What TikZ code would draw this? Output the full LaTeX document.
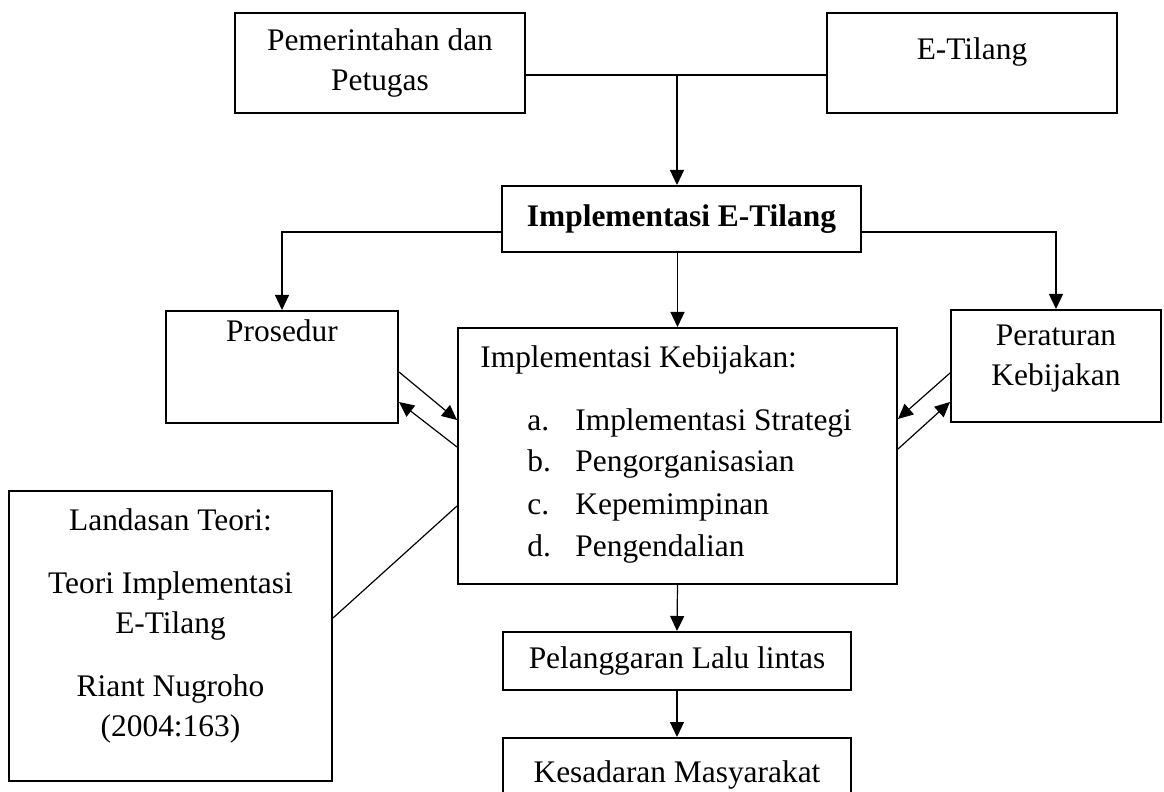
\documentclass[tikz,border=0pt]{standalone}
\usepackage{fontspec}
\setmainfont{Liberation Serif}
\usetikzlibrary{arrows.meta,positioning}

\begin{document}
\begin{tikzpicture}[x=0.5pt,y=-0.5pt,>={Triangle[length=7.5pt,width=7pt]},
  box/.style={draw,line width=1pt,inner sep=0pt},
  txt/.style={font=\fontsize{15.7}{20}\selectfont,inner sep=0pt,align=center}]
\useasboundingbox (0,0) rectangle (1164,792);
  \node[box,txt,minimum width=145pt,minimum height=50pt]   (pem)  at (380,63)    {Pemerintahan dan\\Petugas};
  \node[box,minimum width=145pt,minimum height=50pt]       (etl)  at (972,63)    {};
  \node[txt]                                               (etltxt) at (972,52)  {E-Tilang};
  \node[box,txt,minimum width=179.5pt,minimum height=33pt,
        font=\fontsize{15.7}{20}\selectfont\bfseries]      (iet)  at (681.5,219) {Implementasi E-Tilang};
  \node[box,minimum width=116pt,minimum height=56pt]       (pros) at (282,367)   {};
  \node[txt]                                               (prostxt) at (282,331) {Prosedur};
  \node[box,minimum width=105pt,minimum height=56pt]       (per)  at (1056,366)  {};
  \node[txt]                                               (pertxt) at (1056,359) {Peraturan\\Kebijakan};
  \node[box,minimum width=219.5pt,minimum height=128pt]    (ikb)  at (677.5,456) {};
  \node[txt,anchor=base west]                              (ikbhead) at (480,367) {Implementasi Kebijakan:};
  \foreach \lbl/\itm [count=\i] in {a./Implementasi Strategi,b./Pengorganisasian,
                                    c./Kepemimpinan,d./Pengendalian}
  {
    \node[txt,anchor=base west] (lbl\i) at (527,388+42*\i) {\lbl};
    \node[txt,anchor=base west] (itm\i) at (575,388+42*\i) {\itm};
  }
  \node[box,minimum width=161.5pt,minimum height=145pt]    (lan)  at (170.5,636) {};
  \node[txt]                                               (lantxt) at (170.5,626)
       {Landasan Teori:\\[11.5pt]Teori Implementasi\\E-Tilang\\[11.5pt]Riant Nugroho\\(2004:163)};
  \node[box,txt,minimum width=174pt,minimum height=29pt]   (pel)  at (677,661)   {Pelanggaran Lalu lintas};
  \node[box,minimum width=174pt,minimum height=29pt]       (kes)  at (677,767)   {};
  \node[txt]                                               (kestxt) at (677,775) {Kesadaran Masyarakat};
\coordinate (join) at (677,75);
\tikzset{flow/.style={->,line width=0.6pt}}
\draw[line width=0.6pt] ([yshift=-6pt]pem.east) -- ([yshift=-6pt]etl.west);
\draw[flow] ([yshift=-6.5pt]iet.west) -| (pros.north);
\draw[flow] ([yshift=-6.5pt]iet.east) -| (per.north);
\path (join)                  edge [flow] (join |- iet.north)
      (ikb.north |- iet.south) edge [flow] (ikb.north)
      (ikb.south)             edge [flow] (pel.north)
      (pel.south)             edge [flow] (kes.north)
      ([yshift=-2.5pt]pros.east) edge [flow] ([yshift=18pt]ikb.west)
      ([yshift=4.5pt]ikb.west)   edge [flow] ([yshift=-17.5pt]pros.east)
      ([yshift=-3.5pt]per.west)  edge [flow] ([yshift=18.5pt]ikb.east)
      ([yshift=3.5pt]ikb.east)   edge [flow] ([yshift=-18pt]per.west);
\path ([yshift=9pt]lan.east) edge [line width=0.6pt] ([yshift=-25pt]ikb.west);
\end{tikzpicture}
\end{document}
